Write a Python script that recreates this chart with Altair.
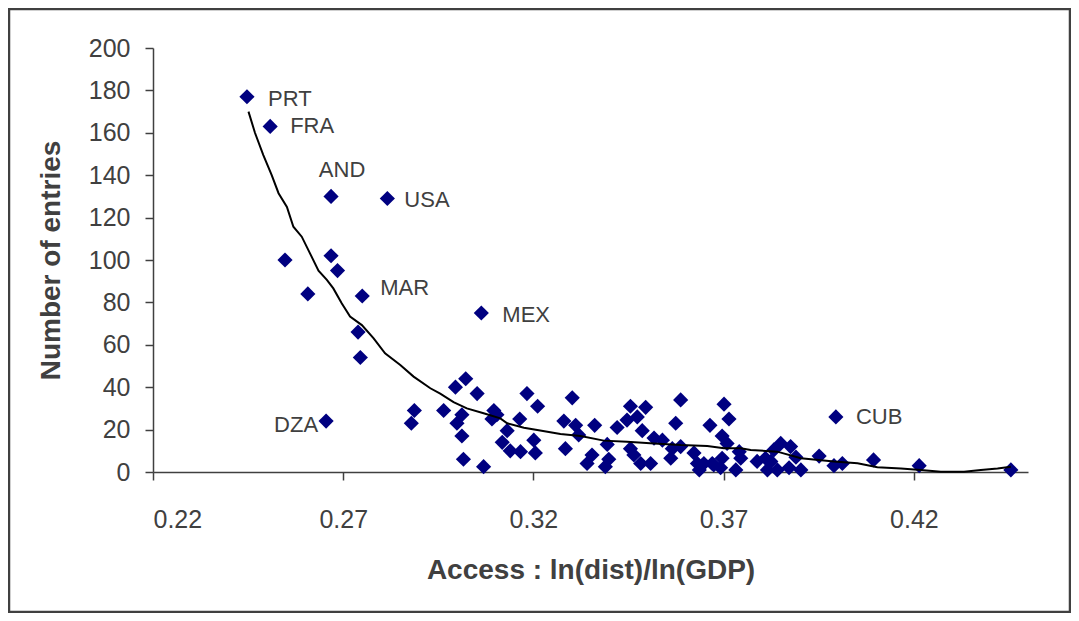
import altair as alt
import pandas as pd

# ---------------- data ----------------
countries = ["PRT", "FRA", "AND", "USA", "MAR", "MEX", "DZA", "CUB"]

access = [
    0.2447, 0.2508, 0.2668, 0.2816, 0.2750, 0.3063, 0.2655, 0.3995,
    0.2547, 0.2668, 0.2685, 0.2607, 0.2739, 0.2745, 0.3022, 0.2995,
    0.3052, 0.2887, 0.2879, 0.2964, 0.3012, 0.2999, 0.3096, 0.3091,
    0.3104, 0.3012, 0.3016, 0.3069, 0.3131, 0.3118, 0.3139, 0.3166,
    0.3164, 0.3183, 0.3211, 0.3201, 0.3205, 0.3302, 0.3280, 0.3311,
    0.3319, 0.3284, 0.3361, 0.3354, 0.3341, 0.3394, 0.3398, 0.3389,
    0.3420, 0.3455, 0.3446, 0.3473, 0.3495, 0.3486, 0.3455, 0.3464,
    0.3482, 0.3508, 0.3517, 0.3539, 0.3587, 0.3574, 0.3565, 0.3561,
    0.3587, 0.3622, 0.3631, 0.3636, 0.3664, 0.3670, 0.3701, 0.3714,
    0.3696, 0.3709, 0.3696, 0.3692, 0.3732, 0.3741, 0.3745, 0.3648,
    0.3674, 0.3850, 0.3876, 0.3832, 0.3890, 0.3810, 0.3824, 0.3815,
    0.3841, 0.3872, 0.3903, 0.3951, 0.3990, 0.4012, 0.4094, 0.4214,
    0.4455, 0.3788,
]
entries = [
    177, 163, 130, 129, 83, 75, 24, 26,
    100, 102, 95, 84, 66, 54, 44, 40,
    37, 29, 23, 29, 27, 23, 29, 25,
    27, 17, 6, 2.5, 19.5, 14, 10, 9.6,
    25, 37, 31, 15, 9, 35, 24, 22,
    17.5, 11, 22, 8, 4, 13, 6, 2.5,
    21, 31, 24.5, 26, 30.5, 19.5, 11, 8,
    4, 4, 16, 15, 34, 23, 11, 6.5,
    12, 9, 4, 1, 22, 4, 32, 25,
    17, 13.5, 6.5, 2, 1, 9.6, 6.5, 4,
    3.3, 13.5, 12, 10.4, 7, 6.5, 5, 1,
    1, 2, 1, 7.5, 3, 4, 5.7, 3,
    1, 5,
]

trend_access = [
    0.2451, 0.2468, 0.2490, 0.2512, 0.2530, 0.2552, 0.2569, 0.2591,
    0.2613, 0.2635, 0.2657, 0.2674, 0.2696, 0.2718, 0.2749, 0.2780,
    0.2810, 0.2850, 0.2885, 0.2929, 0.2955, 0.2990, 0.3025, 0.3069,
    0.3113, 0.3131, 0.3175, 0.3210, 0.3271, 0.3324, 0.3385, 0.3446,
    0.3517, 0.3587, 0.3657, 0.3701, 0.3745, 0.3771, 0.3841, 0.3903,
    0.3990, 0.4052, 0.4104, 0.4166, 0.4218, 0.4271, 0.4332, 0.4376,
    0.4420, 0.4455,
]
trend_entries = [
    170, 160, 149.5, 140, 131.5, 125, 115.7, 111,
    103, 95, 90.6, 86.6, 79.6, 73.3, 69.3, 63,
    56, 50.5, 45, 39.5, 37, 33, 30, 27.7,
    25.3, 23, 20.9, 19.8, 17.9, 17, 14.8, 14.3,
    13.5, 12.7, 12.3, 11.2, 11.2, 10.4, 9.6, 6.5,
    4.9, 4.1, 2.2, 1.7, 0.9, 0.1, 0.1, 0.9,
    1.7, 2.5,
]

x_ticks = [0.22, 0.27, 0.32, 0.37, 0.42]
y_ticks = [0, 20, 40, 60, 80, 100, 120, 140, 160, 180, 200]

# ---------------- styles ----------------
FONT = "Liberation Sans"
TEXT = "#404040"
NAVY = "#000080"
label_style = {  # dx, dy, align
    "PRT": (21, 2, "left"),
    "FRA": (20, 0, "left"),
    "AND": (11, -26, "center"),
    "USA": (17, 1, "left"),
    "MAR": (18, -8, "left"),
    "MEX": (21, 2, "left"),
    "DZA": (-8, 4, "right"),
    "CUB": (20, 0, "left"),
}

names = countries + [""] * (len(access) - len(countries))
pts = pd.DataFrame({"access": access, "entries": entries, "name": names})
trend = pd.DataFrame({"access": trend_access, "entries": trend_entries,
                      "idx": list(range(len(trend_access)))})

xscale = alt.Scale(domain=[0.22, 0.45], nice=False, zero=False)
yscale = alt.Scale(domain=[0, 200], nice=False)

xaxis = alt.Axis(values=x_ticks, format=".2f", grid=False, tickSize=8,
                 labelPadding=27, title="Access : ln(dist)/ln(GDP)",
                 titlePadding=24)
yaxis = alt.Axis(values=y_ticks, grid=False, tickSize=8, labelPadding=15,
                 title="Number of entries", titlePadding=23)

frame = alt.Chart(alt.Data(values=[{"a": 1}])).mark_rect(
    fill=None, stroke="#404040", strokeWidth=2.5
).encode(
    x=alt.value(-144), x2=alt.value(917), y=alt.value(-39), y2=alt.value(564)
)

points = alt.Chart(pts).mark_point(
    shape="diamond", filled=True, color=NAVY, size=230, opacity=1
).encode(
    x=alt.X("access:Q", scale=xscale, axis=xaxis),
    y=alt.Y("entries:Q", scale=yscale, axis=yaxis),
)

line = alt.Chart(trend).mark_line(color="black", strokeWidth=2).encode(
    x=alt.X("access:Q", scale=xscale),
    y=alt.Y("entries:Q", scale=yscale),
    order="idx:Q",
)

labels = []
for name, (dx, dy, align) in label_style.items():
    labels.append(
        alt.Chart(pts).transform_filter(alt.datum.name == name).mark_text(
            dx=dx, dy=dy, align=align, baseline="middle", font=FONT,
            fontSize=22, color=TEXT
        ).encode(
            x=alt.X("access:Q", scale=xscale),
            y=alt.Y("entries:Q", scale=yscale),
            text="name:N",
        )
    )

chart = alt.layer(frame, points, line, *labels).properties(
    width=875, height=424,
    autosize=alt.AutoSizeParams(type="none"),
    padding={"left": 145, "top": 40, "right": 43, "bottom": 141},
    background="white",
).configure_view(stroke=None).configure_axis(
    domainColor="#404040", domainWidth=1.5, tickColor="#404040", tickWidth=1.5,
    labelFont=FONT, labelFontSize=25, labelColor=TEXT,
    titleFont=FONT, titleFontSize=28, titleFontWeight="bold", titleColor=TEXT,
)

chart.save("out.html", embed_options={"renderer": "svg", "actions": False})
